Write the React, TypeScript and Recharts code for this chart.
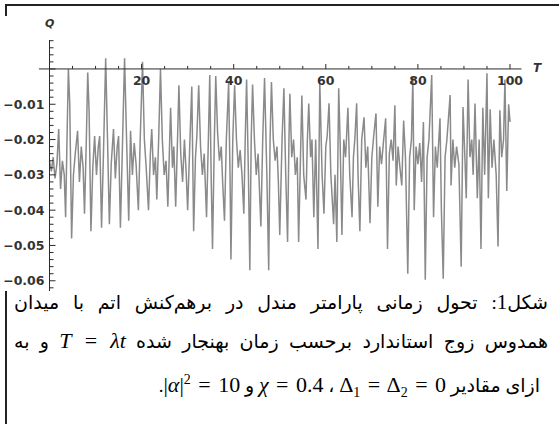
import React from "react";
import {
	LineChart,
	Line,
	XAxis,
	YAxis,
	ReferenceLine,
	ReferenceDot,
} from "recharts";

// time samples T = λt
const times = [
	0, 0.4, 0.8, 1.2, 1.6, 2.0, 2.4, 2.8, 3.2, 3.5,
	3.8, 4.1, 4.4, 4.8, 5.2, 5.6, 6.1, 6.5, 6.9, 7.3,
	7.6, 8.0, 8.3, 8.6, 9.0, 9.4, 9.8, 10.2, 10.6, 10.9,
	11.3, 11.7, 12.2, 12.6, 13.0, 13.4, 13.9, 14.3, 14.7, 15.0,
	15.4, 15.8, 16.3, 16.7, 17.2, 17.6, 18.0, 18.4, 18.8, 19.3,
	19.7, 20.2, 20.6, 21.0, 21.5, 21.9, 22.2, 22.6, 23.0, 23.3,
	23.7, 24.1, 24.5, 24.9, 25.3, 25.7, 26.0, 26.3, 26.7, 27.0,
	27.4, 27.8, 28.1, 28.5, 28.9, 29.3, 29.7, 30.0, 30.5, 30.9,
	31.3, 31.7, 32.0, 32.4, 32.8, 33.2, 33.6, 34.1, 34.5, 34.8,
	35.1, 35.4, 35.8, 36.1, 36.5, 36.9, 37.3, 37.6, 38.0, 38.4,
	38.9, 39.2, 39.4, 39.8, 40.2, 40.6, 41.0, 41.4, 41.8, 42.2,
	42.5, 42.8, 43.2, 43.5, 43.8, 44.1, 44.5, 44.9, 45.3, 45.9,
	46.3, 46.7, 47.2, 47.6, 47.9, 48.2, 48.6, 49.0, 49.4, 49.7,
	50.0, 50.5, 50.9, 51.3, 51.7, 52.0, 52.2, 52.6, 53.0, 53.4,
	53.8, 54.1, 54.5, 54.8, 55.2, 55.7, 56.0, 56.3, 56.7, 57.0,
	57.4, 57.8, 58.3, 58.7, 59.2, 59.6, 60.0, 60.3, 60.7, 61.1,
	61.7, 62.0, 62.4, 62.8, 63.1, 63.5, 63.9, 64.3, 64.8, 65.2,
	65.7, 66.0, 66.3, 66.7, 67.0, 67.4, 67.8, 68.3, 68.7, 69.1,
	69.6, 70.0, 70.4, 70.9, 71.3, 71.7, 72.1, 72.5, 73.0, 73.4,
	73.8, 74.2, 74.6, 75.0, 75.3, 75.7, 76.1, 76.5, 76.9, 77.3,
	77.8, 78.2, 78.6, 78.9, 79.2, 79.6, 80.0, 80.4, 80.8, 81.2,
	81.6, 82.0, 82.4, 83.0, 83.4, 83.8, 84.2, 84.8, 85.1, 85.5,
	85.9, 86.3, 87.0, 87.2, 87.6, 88.0, 88.4, 88.9, 89.4, 89.8,
	90.2, 90.5, 90.9, 91.3, 91.7, 92.0, 92.4, 92.9, 93.3, 93.7,
	94.1, 94.5, 95.0, 95.3, 95.7, 96.1, 96.5, 97.0, 97.4, 97.8,
	98.2, 98.6, 98.9, 99.3, 99.7, 100,
];

// Mandel parameter Q
const qValues = [
	-0.026, -0.029, -0.025, -0.031, -0.027, -0.017, -0.034, -0.026, -0.03, -0.042,
	-0.02, 0.0, -0.01, -0.048, -0.03, -0.024, -0.0175, -0.032, -0.022, -0.028,
	-0.041, -0.02, -0.001, -0.012, -0.046, -0.028, -0.019, -0.03, -0.022, -0.019,
	-0.045, -0.025, 0.003, -0.02, -0.044, -0.027, -0.017, -0.031, -0.022, -0.019,
	-0.045, -0.024, 0.003, -0.018, -0.043, -0.0175, -0.03, -0.021, -0.027, -0.04,
	-0.02, 0.002, -0.02, -0.028, -0.04, -0.024, -0.017, -0.03, -0.025, -0.037,
	-0.02, 0.0, -0.02, -0.03, -0.026, -0.039, -0.025, -0.011, -0.028, -0.022,
	-0.039, -0.02, -0.0046, -0.024, -0.032, -0.02, -0.03, -0.04, -0.02, -0.005,
	-0.046, -0.025, -0.019, -0.0046, -0.022, -0.03, -0.024, -0.042, -0.02, -0.0017,
	-0.03, -0.051, -0.02, -0.002, -0.018, -0.026, -0.022, -0.032, -0.043, -0.02,
	-0.004, -0.03, -0.054, -0.02, -0.0046, -0.02, -0.028, -0.023, -0.03, -0.041,
	-0.02, -0.003, -0.03, -0.057, -0.02, -0.0044, -0.02, -0.03, -0.024, -0.0446,
	-0.02, -0.0026, -0.03, -0.057, -0.02, -0.0037, -0.02, -0.026, -0.022, -0.032,
	-0.047, -0.02, -0.0055, -0.03, -0.049, -0.02, -0.007, -0.025, -0.02, -0.03,
	-0.025, -0.049, -0.025, -0.0075, -0.03, -0.037, -0.02, -0.0098, -0.025, -0.02,
	-0.042, -0.02, -0.051, -0.004, -0.03, -0.041, -0.022, -0.019, -0.0097, -0.03,
	-0.044, -0.03, -0.049, -0.0055, -0.02, -0.047, -0.02, -0.025, -0.011, -0.03,
	-0.042, -0.025, -0.02, -0.0097, -0.03, -0.046, -0.02, -0.0137, -0.028, -0.022,
	-0.0437, -0.025, -0.019, -0.0126, -0.039, -0.022, -0.027, -0.021, -0.014, -0.051,
	-0.024, -0.02, -0.026, -0.0103, -0.033, -0.022, -0.028, -0.033, -0.0146, -0.025,
	-0.058, -0.025, -0.02, -0.0023, -0.04, -0.022, -0.027, -0.021, -0.032, -0.015,
	-0.0597, -0.025, -0.02, -0.0017, -0.042, -0.022, -0.028, -0.014, -0.04, -0.0594,
	-0.025, -0.02, -0.0074, -0.033, -0.02, -0.028, -0.022, -0.027, -0.056, -0.0108,
	-0.025, -0.0366, -0.003, -0.025, -0.02, -0.03, -0.0098, -0.0366, -0.02, -0.051,
	-0.011, -0.03, -0.0012, -0.0366, -0.0114, -0.028, -0.02, -0.03, -0.0503, -0.0117,
	-0.025, -0.02, -0.003, -0.0346, -0.01, -0.015,
];

const xMajorTicks = [20, 40, 60, 80, 100];
const xMinorTicks = [5, 10, 15, 25, 30, 35, 45, 50, 55, 65, 70, 75, 85, 90, 95];
const yLabelTicks = [-0.01, -0.02, -0.03, -0.04, -0.05, -0.06];
const yTicks = [
	0.008, 0.006, 0.004, 0.002, 0, -0.002, -0.004, -0.006, -0.008, -0.01,
	-0.012, -0.014, -0.016, -0.018, -0.02, -0.022, -0.024, -0.026, -0.028, -0.03,
	-0.032, -0.034, -0.036, -0.038, -0.04, -0.042, -0.044, -0.046, -0.048, -0.05,
	-0.052, -0.054, -0.056, -0.058, -0.06, -0.062,
];

const data = times.map((t, i) => ({ t, q: qValues[i] }));

const axisFont = "DejaVu Sans, sans-serif";
const inkColor = "#2a2a2a";

const YTick = (props: any) => {
	const { x, y, payload } = props;
	const v = payload.value;
	const labelled = yLabelTicks.some((m) => Math.abs(m - v) < 1e-9);
	const major = labelled || Math.abs(v) < 1e-9;
	return (
		<g>
			<line x1={x} y1={y} x2={x + (major ? 6 : 4)} y2={y} stroke={inkColor} strokeWidth={1} />
			{labelled && (
				<text
					x={x - 5}
					y={y}
					dy={4.5}
					textAnchor="end"
					fontFamily={axisFont}
					fontWeight={600}
					fontSize={12.5}
					fill="#333"
				>
					{"\u2212" + Math.abs(v).toFixed(2)}
				</text>
			)}
		</g>
	);
};

const XTickMark = (major: boolean, label?: string) => (props: any) => {
	const { cx, cy } = props;
	return (
		<g>
			<line x1={cx} y1={cy} x2={cx} y2={cy - (major ? 5 : 3)} stroke={inkColor} strokeWidth={1} />
			{label && (
				<text
					x={cx}
					y={cy + 16}
					textAnchor="middle"
					fontFamily={axisFont}
					fontWeight={600}
					fontSize={12.5}
					fill="#333"
				>
					{label}
				</text>
			)}
		</g>
	);
};

const mathFont = "'Liberation Serif', 'Times New Roman', serif";
const captionFont = "'Liberation Serif', 'DejaVu Sans', serif";

const Iso = ({ children }: { children: React.ReactNode }) => (
	<span dir="ltr" style={{ unicodeBidi: "isolate", fontFamily: mathFont, fontSize: 22, wordSpacing: 2 }}>
		{children}
	</span>
);

export default function App() {
	return (
		<div style={{ position: "absolute", left: 0, top: 0, width: 559, height: 424, background: "#fff", overflow: "hidden" }}>
			{/* document frame */}
			<div style={{ position: "absolute", left: 5, top: 4, width: 560, height: 2, background: "#222" }} />
			<div style={{ position: "absolute", left: 5, top: 4, width: 2, height: 12, background: "#222" }} />
			<div style={{ position: "absolute", left: 5, top: 291, width: 2, height: 133, background: "#222" }} />

			<LineChart
				width={559}
				height={300}
				data={data}
				margin={{ top: 40, right: 49, bottom: 9, left: 0 }}
			>
				<XAxis dataKey="t" type="number" domain={[0, 100]} hide />
				<YAxis
					type="number"
					domain={[-0.0629, 0.0082]}
					ticks={yTicks}
					interval={0}
					width={49.5}
					tickSize={0}
					tickMargin={0}
					tick={<YTick />}
					axisLine={{ stroke: inkColor, strokeWidth: 1 }}
					tickLine={false}
				/>
				<Line
					type="linear"
					dataKey="q"
					stroke="#8a8a8a"
					strokeWidth={1.5}
					dot={false}
					isAnimationActive={false}
				/>
				<ReferenceLine
					segment={[
						{ x: -2.3, y: 0 },
						{ x: 102.5, y: 0 },
					]}
					stroke={inkColor}
					strokeWidth={1}
					ifOverflow="visible"
				/>
				{xMinorTicks.map((t) => (
					<ReferenceDot key={"m" + t} x={t} y={0} r={0} shape={XTickMark(false)} />
				))}
				{xMajorTicks.map((t) => (
					<ReferenceDot key={"M" + t} x={t} y={0} r={0} shape={XTickMark(true, String(t))} />
				))}
			</LineChart>

			<div style={{ position: "absolute", left: 45, top: 17, fontFamily: axisFont, fontStyle: "italic", fontWeight: 700, fontSize: 11, color: "#333" }}>
				Q
			</div>
			<div style={{ position: "absolute", left: 533, top: 61, fontFamily: axisFont, fontStyle: "italic", fontWeight: 700, fontSize: 12, color: "#333" }}>
				T
			</div>

			<div
				dir="rtl"
				style={{
					position: "absolute",
					left: 14,
					top: 283,
					width: 534,
					fontFamily: captionFont,
					fontSize: 19,
					lineHeight: "38px",
					color: "#000",
				}}
			>
				<div style={{ textAlign: "justify", textAlignLast: "justify" }}>
					شکل<span style={{ fontFamily: mathFont, fontSize: 21 }}>1</span>: تحول زمانی پارامتر مندل در برهم‌کنش اتم با میدان
				</div>
				<div style={{ textAlign: "justify", textAlignLast: "justify" }}>
					همدوس زوج استاندارد برحسب زمان بهنجار شده <Iso><i>T</i> = <i>λt</i></Iso> و به
				</div>
				<div style={{ textAlign: "right", paddingRight: 8 }}>
					ازای مقادیر{"  "}
					<Iso>Δ<sub style={{ fontSize: 14 }}>1</sub> = Δ<sub style={{ fontSize: 14 }}>2</sub> = 0</Iso>
					{" ، "}
					<Iso><i>χ</i> = 0.4</Iso> و{" "}
					<Iso>|<i>α</i>|<sup style={{ fontSize: 14 }}>2</sup> = 10</Iso>.
				</div>
			</div>
		</div>
	);
}
